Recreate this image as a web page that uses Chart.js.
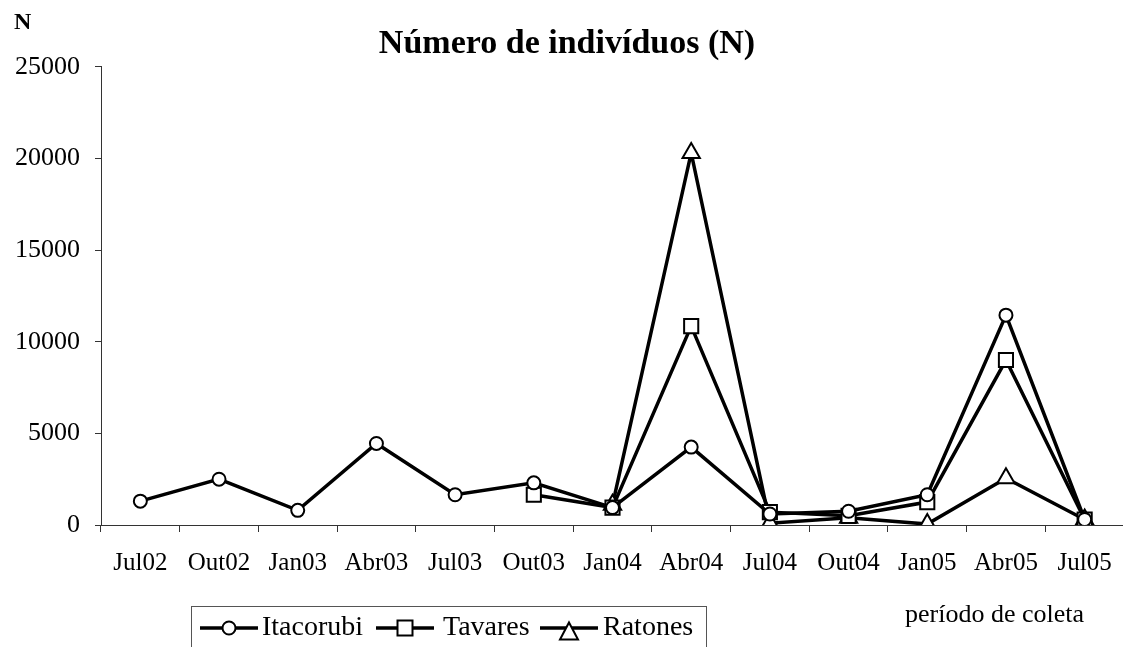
<!DOCTYPE html>
<html lang="pt-br">
<head>
    <meta charset="UTF-8">
    <script src="https://cdn.jsdelivr.net/npm/chart.js"></script>
    <title>Número de indivíduos (N)</title>
    <style>
        body {
            margin: 0;
            padding: 0;
            background-color: #ffffff;
            overflow: hidden;
            font-family: 'Liberation Serif', serif;
            color: #000000;
        }

        .wrap {
            position: relative;
            width: 1136px;
            height: 647px;
        }

        canvas {
            position: absolute;
            left: 0;
            top: 0;
        }

        .eixo-n {
            position: absolute;
            left: 14px;
            top: 8px;
            font-size: 24px;
            font-weight: bold;
        }

        .periodo {
            position: absolute;
            left: 905px;
            top: 601px;
            font-size: 26px;
            line-height: 26px;
            white-space: nowrap;
        }

        .legenda {
            position: absolute;
            left: 191px;
            top: 606px;
            width: 516px;
            height: 60px;
            border: 1px solid #555;
            box-sizing: border-box;
            font-size: 28px;
            line-height: 28px;
        }

        .legenda svg, .legenda span {
            position: absolute;
        }

        .legenda span {
            top: 5px;
            white-space: nowrap;
        }

        .legenda svg {
            top: 11px;
        }
    </style>
</head>
<body>
    <div class="wrap">
        <canvas id="graficoN" width="1136" height="647"></canvas>
        <div class="eixo-n">N</div>
        <div class="periodo">período de coleta</div>
        <div class="legenda">
            <svg style="left:8px" width="58" height="26"><line x1="0" y1="10" x2="58" y2="10" stroke="#000" stroke-width="3.5"/><circle cx="29" cy="10" r="6.5" fill="#fff" stroke="#000" stroke-width="2"/></svg>
            <span style="left:70px">Itacorubi</span>
            <svg style="left:184px" width="58" height="26"><line x1="0" y1="10" x2="58" y2="10" stroke="#000" stroke-width="3.5"/><rect x="21.5" y="2.5" width="15" height="15" fill="#fff" stroke="#000" stroke-width="2"/></svg>
            <span style="left:251px">Tavares</span>
            <svg style="left:348px" width="58" height="26"><line x1="0" y1="10" x2="58" y2="10" stroke="#000" stroke-width="3.5"/><polygon points="29,4.5 38,21.5 20,21.5" fill="#fff" stroke="#000" stroke-width="2"/></svg>
            <span style="left:411px">Ratones</span>
        </div>
    </div>

    <script>
        // periodos de coleta (eixo x)
        const periodos = ['Jul02', 'Out02', 'Jan03', 'Abr03', 'Jul03', 'Out03', 'Jan04', 'Abr04', 'Jul04', 'Out04', 'Jan05', 'Abr05', 'Jul05'];

        // numero de individuos por manguezal
        const itacorubi = [1300, 2500, 800, 4450, 1650, 2300, 950, 4250, 600, 750, 1650, 11450, 300];
        const tavares = [null, null, null, null, null, 1650, 950, 10850, 700, 500, 1250, 9000, 300];
        const ratones = [null, null, null, null, null, null, 1100, 20300, 100, 400, 50, 2550, 300];

        // ticks do eixo y
        const yMin = 0;
        const yMax = 25000;
        const yPasso = 5000;

        const fonte = 'Liberation Serif';

        function serie(nome, dados, estilo, raio) {
            return {
                label: nome,
                data: dados,
                borderColor: '#000000',
                borderWidth: 3.5,
                backgroundColor: '#ffffff',
                pointStyle: estilo,
                pointRadius: raio,
                pointHoverRadius: raio,
                pointBackgroundColor: '#ffffff',
                pointBorderColor: '#000000',
                pointBorderWidth: 2,
                tension: 0,
                fill: false,
                spanGaps: false
            };
        }

        const grafico = new Chart(document.getElementById('graficoN').getContext('2d'), {
            type: 'line',
            data: {
                labels: periodos,
                datasets: [
                    serie('Itacorubi', itacorubi, 'circle', 6.5),
                    serie('Tavares', tavares, 'rect', 10),
                    serie('Ratones', ratones, 'triangle', 10)
                ]
            },
            options: {
                responsive: false,
                animation: false,
                devicePixelRatio: 1,
                layout: {
                    padding: { top: 0, left: 0, right: 2, bottom: 0 }
                },
                plugins: {
                    legend: { display: false },
                    tooltip: { enabled: false },
                    title: {
                        display: true,
                        text: 'Número de indivíduos (N)',
                        color: '#000000',
                        font: { family: fonte, size: 34, weight: 'bold', lineHeight: 1.2 },
                        padding: { top: 24, bottom: 2 }
                    }
                },
                scales: {
                    x: {
                        type: 'category',
                        offset: true,
                        grid: {
                            offset: true,
                            drawOnChartArea: false,
                            drawTicks: true,
                            tickLength: 7,
                            color: '#333333'
                        },
                        border: { color: '#333333', width: 1 },
                        ticks: {
                            color: '#000000',
                            padding: 16,
                            maxRotation: 0,
                            autoSkip: false,
                            font: { family: fonte, size: 25 }
                        },
                        afterFit: function (scale) {
                            scale.height = 122;
                        }
                    },
                    y: {
                        min: yMin,
                        max: yMax,
                        grid: {
                            drawOnChartArea: false,
                            drawTicks: true,
                            tickLength: 6,
                            color: '#333333'
                        },
                        border: { color: '#333333', width: 1 },
                        ticks: {
                            stepSize: yPasso,
                            color: '#000000',
                            padding: 15,
                            font: { family: fonte, size: 26 },
                            callback: function (valor) {
                                return String(valor);
                            }
                        },
                        afterFit: function (scale) {
                            scale.width = 101;
                        }
                    }
                }
            }
        });
    </script>
</body>
</html>
